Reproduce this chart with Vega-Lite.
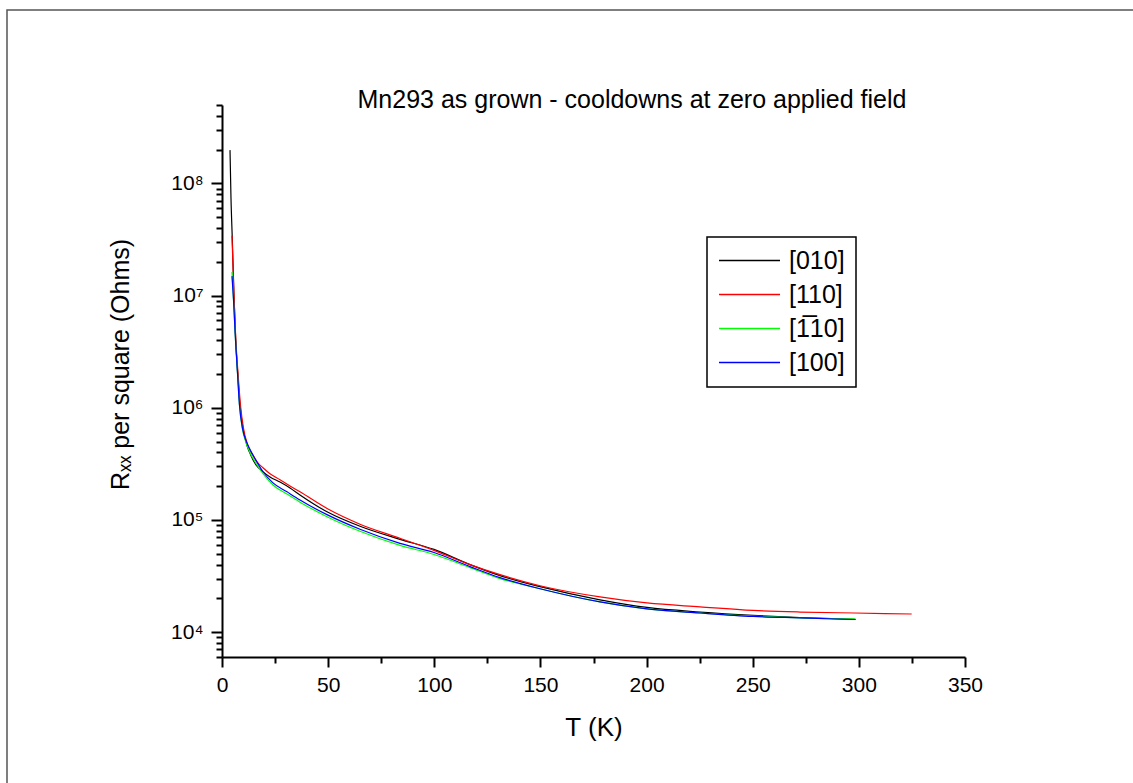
{
  "$schema": "https://vega.github.io/schema/vega-lite/v6.json",
  "autosize": {"type": "none"},
  "padding": {"left": 7, "top": 10, "right": 0, "bottom": 0},
  "width": 1126,
  "height": 773,
  "background": "white",
  "view": {"stroke": "#555555", "strokeWidth": 1.5, "strokeDash": [1126, 1899, 773], "fill": "white"},
  "title": {
    "text": "Mn293 as grown - cooldowns at zero applied field",
    "font": "Liberation Sans",
    "fontSize": 25,
    "fontWeight": "normal",
    "color": "black",
    "anchor": "middle",
    "frame": "group",
    "baseline": "alphabetic",
    "offset": -123,
    "dx": 62
  },
  "data": {
    "values": [
      {"s": "[010]", "T": 3.77, "R": 198000000},
      {"s": "[010]", "T": 4.24, "R": 73300000},
      {"s": "[010]", "T": 4.85, "R": 32000000},
      {"s": "[010]", "T": 5.65, "R": 9850000},
      {"s": "[010]", "T": 6.45, "R": 4040000},
      {"s": "[010]", "T": 7.4, "R": 2040000},
      {"s": "[010]", "T": 8.48, "R": 1050000},
      {"s": "[010]", "T": 9.89, "R": 654000},
      {"s": "[010]", "T": 11.78, "R": 460000},
      {"s": "[010]", "T": 13.66, "R": 374000},
      {"s": "[010]", "T": 16.02, "R": 310000},
      {"s": "[010]", "T": 18.84, "R": 274000},
      {"s": "[010]", "T": 22.61, "R": 242000},
      {"s": "[010]", "T": 27.32, "R": 218000},
      {"s": "[010]", "T": 32.03, "R": 193000},
      {"s": "[010]", "T": 36.74, "R": 167000},
      {"s": "[010]", "T": 49.93, "R": 117000},
      {"s": "[010]", "T": 65.01, "R": 87800},
      {"s": "[010]", "T": 83.85, "R": 67100},
      {"s": "[010]", "T": 99.86, "R": 54600},
      {"s": "[010]", "T": 116.82, "R": 40000},
      {"s": "[010]", "T": 130.95, "R": 31900},
      {"s": "[010]", "T": 149.8, "R": 25400},
      {"s": "[010]", "T": 178.06, "R": 19400},
      {"s": "[010]", "T": 200.2, "R": 16600},
      {"s": "[010]", "T": 225.17, "R": 15100},
      {"s": "[010]", "T": 250.13, "R": 14100},
      {"s": "[010]", "T": 272.27, "R": 13500},
      {"s": "[010]", "T": 298.5, "R": 13000},

      {"s": "[110]", "T": 4.71, "R": 34100000},
      {"s": "[110]", "T": 5.65, "R": 9850000},
      {"s": "[110]", "T": 6.5, "R": 4040000},
      {"s": "[110]", "T": 7.54, "R": 2040000},
      {"s": "[110]", "T": 8.71, "R": 1053000},
      {"s": "[110]", "T": 10.13, "R": 654000},
      {"s": "[110]", "T": 12.01, "R": 470000},
      {"s": "[110]", "T": 14.13, "R": 390000},
      {"s": "[110]", "T": 16.49, "R": 330000},
      {"s": "[110]", "T": 19.31, "R": 292000},
      {"s": "[110]", "T": 22.61, "R": 258000},
      {"s": "[110]", "T": 27.32, "R": 228000},
      {"s": "[110]", "T": 32.03, "R": 201000},
      {"s": "[110]", "T": 36.74, "R": 178000},
      {"s": "[110]", "T": 49.93, "R": 125000},
      {"s": "[110]", "T": 65.01, "R": 91600},
      {"s": "[110]", "T": 83.85, "R": 68600},
      {"s": "[110]", "T": 99.86, "R": 53500},
      {"s": "[110]", "T": 116.82, "R": 40000},
      {"s": "[110]", "T": 130.95, "R": 32500},
      {"s": "[110]", "T": 149.8, "R": 25900},
      {"s": "[110]", "T": 178.06, "R": 20600},
      {"s": "[110]", "T": 200.2, "R": 18200},
      {"s": "[110]", "T": 225.17, "R": 16800},
      {"s": "[110]", "T": 250.13, "R": 15600},
      {"s": "[110]", "T": 272.27, "R": 15100},
      {"s": "[110]", "T": 298.04, "R": 14800},
      {"s": "[110]", "T": 324.89, "R": 14500},

      {"s": "[1\u030510]", "T": 4.71, "R": 16200000},
      {"s": "[1\u030510]", "T": 5.42, "R": 9250000},
      {"s": "[1\u030510]", "T": 6.36, "R": 4040000},
      {"s": "[1\u030510]", "T": 7.3, "R": 2040000},
      {"s": "[1\u030510]", "T": 8.24, "R": 1053000},
      {"s": "[1\u030510]", "T": 9.66, "R": 641000},
      {"s": "[1\u030510]", "T": 11.31, "R": 490000},
      {"s": "[1\u030510]", "T": 13.19, "R": 398000},
      {"s": "[1\u030510]", "T": 15.55, "R": 330000},
      {"s": "[1\u030510]", "T": 19.31, "R": 258000},
      {"s": "[1\u030510]", "T": 24.02, "R": 205000},
      {"s": "[1\u030510]", "T": 30.62, "R": 170000},
      {"s": "[1\u030510]", "T": 36.74, "R": 144000},
      {"s": "[1\u030510]", "T": 49.93, "R": 105800},
      {"s": "[1\u030510]", "T": 65.01, "R": 79200},
      {"s": "[1\u030510]", "T": 83.85, "R": 59300},
      {"s": "[1\u030510]", "T": 99.86, "R": 49200},
      {"s": "[1\u030510]", "T": 116.82, "R": 37600},
      {"s": "[1\u030510]", "T": 130.95, "R": 30000},
      {"s": "[1\u030510]", "T": 149.8, "R": 24350},
      {"s": "[1\u030510]", "T": 178.06, "R": 18600},
      {"s": "[1\u030510]", "T": 200.2, "R": 16100},
      {"s": "[1\u030510]", "T": 225.17, "R": 14800},
      {"s": "[1\u030510]", "T": 250.13, "R": 13900},
      {"s": "[1\u030510]", "T": 272.27, "R": 13400},
      {"s": "[1\u030510]", "T": 298.04, "R": 13100},

      {"s": "[100]", "T": 4.71, "R": 14900000},
      {"s": "[100]", "T": 5.42, "R": 9250000},
      {"s": "[100]", "T": 6.36, "R": 4040000},
      {"s": "[100]", "T": 7.3, "R": 2040000},
      {"s": "[100]", "T": 8.24, "R": 1053000},
      {"s": "[100]", "T": 9.66, "R": 654000},
      {"s": "[100]", "T": 11.31, "R": 510000},
      {"s": "[100]", "T": 13.19, "R": 424000},
      {"s": "[100]", "T": 15.55, "R": 352000},
      {"s": "[100]", "T": 19.31, "R": 269000},
      {"s": "[100]", "T": 24.02, "R": 214000},
      {"s": "[100]", "T": 30.62, "R": 178000},
      {"s": "[100]", "T": 36.74, "R": 150500},
      {"s": "[100]", "T": 49.93, "R": 110300},
      {"s": "[100]", "T": 65.01, "R": 82600},
      {"s": "[100]", "T": 83.85, "R": 61800},
      {"s": "[100]", "T": 99.86, "R": 51300},
      {"s": "[100]", "T": 116.82, "R": 38400},
      {"s": "[100]", "T": 130.95, "R": 30600},
      {"s": "[100]", "T": 149.8, "R": 24350},
      {"s": "[100]", "T": 178.06, "R": 18600},
      {"s": "[100]", "T": 200.2, "R": 16100},
      {"s": "[100]", "T": 225.17, "R": 14800},
      {"s": "[100]", "T": 250.13, "R": 13800},
      {"s": "[100]", "T": 272.27, "R": 13400},
      {"s": "[100]", "T": 298.04, "R": 12950}
    ]
  },
  "mark": {"type": "line", "strokeWidth": 1.2, "interpolate": "monotone"},
  "encoding": {
    "x": {
      "field": "T",
      "type": "quantitative",
      "scale": {"domain": [0, 350], "range": [215, 958], "nice": false, "zero": false},
      "axis": {
        "orient": "bottom",
        "offset": -126,
        "values": [0, 25, 50, 75, 100, 125, 150, 175, 200, 225, 250, 275, 300, 325, 350],
        "labelExpr": "datum.value % 50 == 0 ? datum.label : ''",
        "tickSize": {"condition": {"test": "datum.value % 50 == 0", "value": 10}, "value": 6},
        "grid": false,
        "domainColor": "black",
        "domainWidth": 2,
        "tickColor": "black",
        "tickWidth": 2,
        "labelFont": "Liberation Sans",
        "labelFontSize": 21,
        "labelColor": "black",
        "labelPadding": 7,
        "labelOverlap": false,
        "labelFlush": false,
        "labelBound": false,
        "title": "T (K)",
        "titleFont": "Liberation Sans",
        "titleFontSize": 26,
        "titleFontWeight": "normal",
        "titleColor": "black",
        "titleBaseline": "alphabetic",
        "titleY": 78
      }
    },
    "y": {
      "field": "R",
      "type": "quantitative",
      "scale": {"type": "log", "domain": [6000, 500000000], "range": [647, 95], "nice": false, "zero": false},
      "axis": {
        "orient": "left",
        "offset": -215,
        "values": [6000, 7000, 8000, 9000, 10000, 20000, 30000, 40000, 50000, 60000, 70000, 80000, 90000, 100000, 200000, 300000, 400000, 500000, 600000, 700000, 800000, 900000, 1000000, 2000000, 3000000, 4000000, 5000000, 6000000, 7000000, 8000000, 9000000, 10000000, 20000000, 30000000, 40000000, 50000000, 60000000, 70000000, 80000000, 90000000, 100000000, 200000000, 300000000, 400000000, 500000000],
        "labelExpr": "datum.value == 1e4 ? '10⁴' : datum.value == 1e5 ? '10⁵' : datum.value == 1e6 ? '10⁶' : datum.value == 1e7 ? '10⁷' : datum.value == 1e8 ? '10⁸' : ''",
        "tickSize": {"condition": {"test": "indexof([10000, 100000, 1000000, 10000000, 100000000], datum.value) >= 0", "value": 11}, "value": 6},
        "grid": false,
        "domainColor": "black",
        "domainWidth": 2,
        "tickColor": "black",
        "tickWidth": 2,
        "labelFont": "Liberation Sans",
        "labelFontSize": 21,
        "labelColor": "black",
        "labelPadding": 8,
        "labelOverlap": false,
        "labelFlush": false,
        "labelBound": false,
        "title": "Rₓₓ per square (Ohms)",
        "titleFont": "Liberation Sans",
        "titleFontSize": 25,
        "titleFontWeight": "normal",
        "titleColor": "black",
        "titleBaseline": "alphabetic",
        "titleAngle": -90,
        "titleX": -94,
        "titleY": 354
      }
    },
    "stroke": {
      "field": "s",
      "type": "nominal",
      "sort": null,
      "scale": {
        "domain": ["[010]", "[110]", "[1\u030510]", "[100]"],
        "range": ["#000000", "#ff0000", "#00ff00", "#0000ff"]
      },
      "legend": {
        "orient": "none",
        "legendX": 700,
        "legendY": 227,
        "title": null,
        "strokeColor": "black",
        "padding": 11,
        "symbolType": "stroke",
        "symbolSize": 3721,
        "symbolStrokeWidth": 1.5,
        "clipHeight": 25,
        "labelOffset": 8,
        "labelFont": "Liberation Sans",
        "labelFontSize": 25,
        "labelColor": "black",
        "labelLimit": 300,
        "rowPadding": 8
      }
    }
  },
  "config": {
    "legend": {"strokeWidth": 1.5}
  }
}
